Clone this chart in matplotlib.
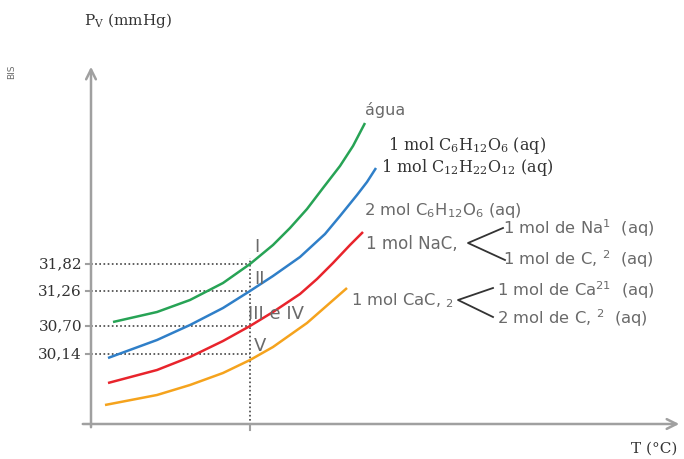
import matplotlib
matplotlib.use("Agg")
import matplotlib.pyplot as plt

# schematic units: T (arbitrary), P (arbitrary)
T_agua = [22, 66, 99, 132, 159, 182, 199, 216, 232, 249, 262, 274]
P_agua = [102, 112, 124, 141, 160, 179, 196, 215, 236, 258, 278, 301]
T_glic = [17, 66, 99, 132, 159, 182, 209, 234, 249, 266, 276, 285]
P_glic = [66, 84, 99, 116, 133, 148, 167, 190, 208, 229, 242, 256]
T_nacl = [17, 66, 99, 132, 159, 182, 209, 226, 242, 259, 272]
P_nacl = [41, 54, 67, 83, 98, 112, 130, 145, 161, 179, 192]
T_cacl = [14, 66, 99, 132, 159, 182, 216, 256]
P_cacl = [19, 29, 39, 51, 64, 77, 101, 136]

tick_pos = [160, 133, 98, 70]
tick_labels = ["31,82", "31,26", "30,70", "30,14"]
T_ref = 159

GREEN = "#27a355"
BLUE = "#2f7fc8"
RED = "#e8242c"
ORANGE = "#f5a31d"
AX = "#a0a0a0"
DARK = "#333333"
GRAY = "#6a6a6a"

fig = plt.figure(figsize=(6.84, 4.59), dpi=100)
ax = fig.add_axes([0, 0, 1, 1])
ax.set_xlim(-91, 593)
ax.set_ylim(-35, 424)
ax.axis("off")

# axes with arrows
ax.annotate("", xy=(0, 360), xytext=(0, -6),
            arrowprops=dict(arrowstyle="->,head_length=0.7,head_width=0.35", color=AX, lw=1.8))
ax.annotate("", xy=(591, 0), xytext=(-11, 0),
            arrowprops=dict(arrowstyle="->,head_length=0.7,head_width=0.35", color=AX, lw=1.8))

# dotted guides
for p in tick_pos:
    ax.plot([0, T_ref], [p, p], color="#444444", lw=1.2, ls=(0, (1, 1.5)))
    ax.plot([-5, 0], [p, p], color=AX, lw=1.5)
ax.plot([T_ref, T_ref], [-5, 166], color="#444444", lw=1.2, ls=(0, (1, 1.5)))
ax.plot([T_ref, T_ref], [-6, 0], color=AX, lw=1.5)

for x, y, c in [(T_agua, P_agua, GREEN), (T_glic, P_glic, BLUE),
                (T_nacl, P_nacl, RED), (T_cacl, P_cacl, ORANGE)]:
    ax.plot(x, y, color=c, lw=1.8, solid_capstyle="butt", solid_joinstyle="round")

for p, lab in zip(tick_pos, tick_labels):
    ax.text(-9, p, lab, ha="right", va="center", fontsize=11,
            family="DejaVu Serif", color=DARK)

SER = "DejaVu Serif"
SAN = "DejaVu Sans"
ax.text(-7, 403, r"P$_\mathregular{V}$ (mmHg)", fontsize=11, family=SER, color=DARK, va="center")
ax.text(540, -25, "T (°C)", fontsize=11, family=SER, color=DARK, va="center")
ax.text(-79, 352, "BIS", fontsize=6.5, family=SAN, color=GRAY, rotation=90, va="center", ha="center")

ax.text(274, 314, "água", fontsize=11.5, family=SAN, color=GRAY, va="center")
ax.text(297, 279, r"1 mol C$_\mathregular{6}$H$_\mathregular{12}$O$_\mathregular{6}$ (aq)",
        fontsize=11.5, family=SER, color=DARK, va="center")
ax.text(290, 257, r"1 mol C$_\mathregular{12}$H$_\mathregular{22}$O$_\mathregular{12}$ (aq)",
        fontsize=11.5, family=SER, color=DARK, va="center")
ax.text(273, 214, r"2 mol C$_\mathregular{6}$H$_\mathregular{12}$O$_\mathregular{6}$ (aq)",
        fontsize=11.8, family=SAN, color=GRAY, va="center")
ax.text(275, 180, "1 mol NaC,", fontsize=12, family=SAN, color=GRAY, va="center")
ax.plot([412, 377, 414], [196, 181, 164], color=DARK, lw=1.3)
ax.text(412, 196, "1 mol de Na$^\\mathregular{1}$  (aq)", fontsize=11.8, family=SAN, color=GRAY, va="center")
ax.text(412, 165, "1 mol de C, $^\\mathregular{2}$  (aq)", fontsize=11.8, family=SAN, color=GRAY, va="center")

ax.text(260, 123, r"1 mol CaC, $_\mathregular{2}$", fontsize=11.8, family=SAN, color=GRAY, va="center")
ax.plot([402, 367, 402], [136, 124, 107], color=DARK, lw=1.3)
ax.text(406, 134, "1 mol de Ca$^\\mathregular{21}$  (aq)", fontsize=11.8, family=SAN, color=GRAY, va="center")
ax.text(406, 106, "2 mol de C, $^\\mathregular{2}$  (aq)", fontsize=11.8, family=SAN, color=GRAY, va="center")

ax.text(163, 177, "I", fontsize=13, family=SAN, color=GRAY, va="center")
ax.text(163, 145, "II", fontsize=13, family=SAN, color=GRAY, va="center")
ax.text(157, 110, "III e IV", fontsize=13, family=SAN, color=GRAY, va="center")
ax.text(163, 78, "V", fontsize=13, family=SAN, color=GRAY, va="center")

fig.savefig("out.png", dpi=100)
